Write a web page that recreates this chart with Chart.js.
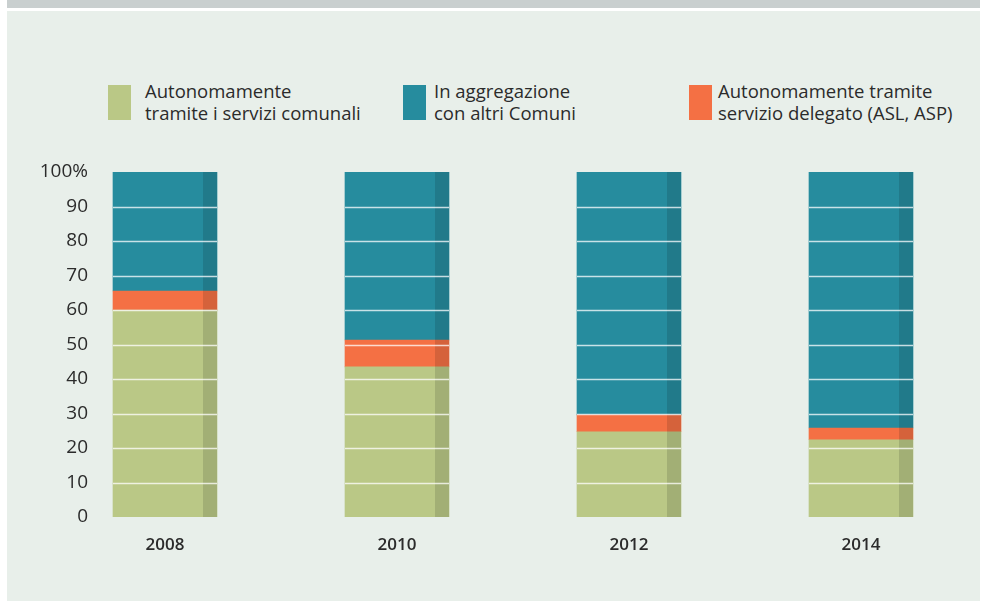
<!DOCTYPE html>
<html>
<head>
<meta charset="utf-8">
<script src="https://cdn.jsdelivr.net/npm/chart.js@4/dist/chart.umd.min.js"></script>
<style>
  html, body { margin: 0; padding: 0; background: #ffffff; }
  body { width: 983px; height: 601px; position: relative; overflow: hidden; }
  #band { position: absolute; left: 7px; top: 0; width: 973px; height: 8px; background: #c9cfcf; }
  #panel { position: absolute; left: 7px; top: 11px; width: 973px; height: 590px; background: #e8efea; }
  #wrap { position: absolute; left: 0; top: 0; width: 983px; height: 601px; }
  .lg { position: absolute; top: 80px; font-family: "Open Sans", sans-serif; font-size: 18.5px; line-height: 22px; color: #2b2b2b; white-space: nowrap; }
  .sw { position: absolute; top: 85px; width: 23px; height: 35px; }
</style>
</head>
<body>
<div id="band"></div>
<div id="panel"></div>
<div id="legend"></div>
<div id="wrap"><canvas id="c" width="983" height="601"></canvas></div>
<script>
// ---- data ----
const years = ['2008', '2010', '2012', '2014'];
const seriesNames = [
  ['Autonomamente', 'tramite i servizi comunali'],
  ['Autonomamente tramite', 'servizio delegato (ASL, ASP)'],
  ['In aggregazione', 'con altri Comuni']
];
const autonomiComunali = [60, 43.5, 24.7, 22.4];
const servizioDelegato = [5.5, 7.8, 4.9, 3.4];
const aggregazione = [34.5, 48.7, 70.4, 74.2];
const yTickLabels = ['0', '10', '20', '30', '40', '50', '60', '70', '80', '90', '100%'];

// ---- styles ----
const colors = ['#bac886', '#f47044', '#268c9e'];
const legendOrder = [0, 2, 1];
const legendSwatchLeft = [108, 403, 689];
const legendTextLeft = [145, 434, 718];
const yFont = { family: 'Open Sans', size: 19 };
const chartLeft = 49;      // chart area left edge
const yLabelRight = 88;    // right edge of y tick labels

// HTML legend
const lgEl = document.getElementById('legend');
legendOrder.forEach((si, k) => {
  const sw = document.createElement('div');
  sw.className = 'sw';
  sw.style.left = legendSwatchLeft[k] + 'px';
  sw.style.background = colors[si];
  lgEl.appendChild(sw);
  const tx = document.createElement('div');
  tx.className = 'lg';
  tx.style.left = legendTextLeft[k] + 'px';
  tx.innerHTML = seriesNames[si].join('<br>');
  lgEl.appendChild(tx);
});

// widest y label, to right-align mirrored labels
const mctx = document.createElement('canvas').getContext('2d');
mctx.font = yFont.size + 'px "' + yFont.family + '"';
let widest = 0;
yTickLabels.forEach(t => { widest = Math.max(widest, mctx.measureText(t).width); });

const shadePlugin = {
  id: 'shade',
  afterDatasetsDraw(chart) {
    const ctx = chart.ctx;
    ctx.save();
    ctx.fillStyle = 'rgba(0,0,0,0.125)';
    chart.data.datasets.forEach((ds, i) => {
      const meta = chart.getDatasetMeta(i);
      meta.data.forEach(bar => {
        const p = bar.getProps(['x', 'y', 'base', 'width'], true);
        const top = Math.min(p.y, p.base), h = Math.abs(p.base - p.y);
        ctx.fillRect(p.x + p.width / 2 - 14, top, 14, h);
      });
    });
    // white grid lines over the bars only
    const ys = chart.scales.y;
    const meta0 = chart.getDatasetMeta(0);
    ctx.strokeStyle = 'rgba(255,255,255,0.75)';
    ctx.lineWidth = 1.6;
    for (let v = 10; v < 100; v += 10) {
      const py = Math.round(ys.getPixelForValue(v)) + 0.5;
      meta0.data.forEach(bar => {
        const p = bar.getProps(['x', 'width'], true);
        ctx.beginPath();
        ctx.moveTo(p.x - p.width / 2, py);
        ctx.lineTo(p.x + p.width / 2, py);
        ctx.stroke();
      });
    }
    ctx.restore();
  }
};

new Chart(document.getElementById('c'), {
  type: 'bar',
  data: {
    labels: years,
    datasets: [
      { label: seriesNames[0].join(' '), data: autonomiComunali, backgroundColor: colors[0] },
      { label: seriesNames[1].join(' '), data: servizioDelegato, backgroundColor: colors[1] },
      { label: seriesNames[2].join(' '), data: aggregazione, backgroundColor: colors[2] }
    ]
  },
  options: {
    responsive: false,
    animation: false,
    devicePixelRatio: 1,
    layout: { padding: { left: chartLeft, right: 6, top: 172, bottom: 34 } },
    plugins: { legend: { display: false }, tooltip: { enabled: false } },
    datasets: { bar: { barThickness: 104, borderWidth: 0 } },
    scales: {
      x: {
        stacked: true,
        offset: true,
        grid: { display: false, drawTicks: false },
        border: { display: false },
        ticks: { color: '#2b2b2b', font: { family: 'Open Sans', size: 17, weight: '600' }, padding: 18 },
        afterFit(s) { s.height = 50; }
      },
      y: {
        stacked: true,
        min: 0, max: 100,
        grid: { display: false, drawTicks: false },
        border: { display: false },
        ticks: {
          stepSize: 10,
          mirror: true,
          crossAlign: 'far',
          color: '#2b2b2b',
          font: yFont,
          padding: yLabelRight - chartLeft - widest,
          callback: (v) => yTickLabels[Math.round(v / 10)]
        },
        afterFit(s) { s.width = 0; }
      }
    }
  },
  plugins: [shadePlugin]
});
</script>
</body>
</html>
